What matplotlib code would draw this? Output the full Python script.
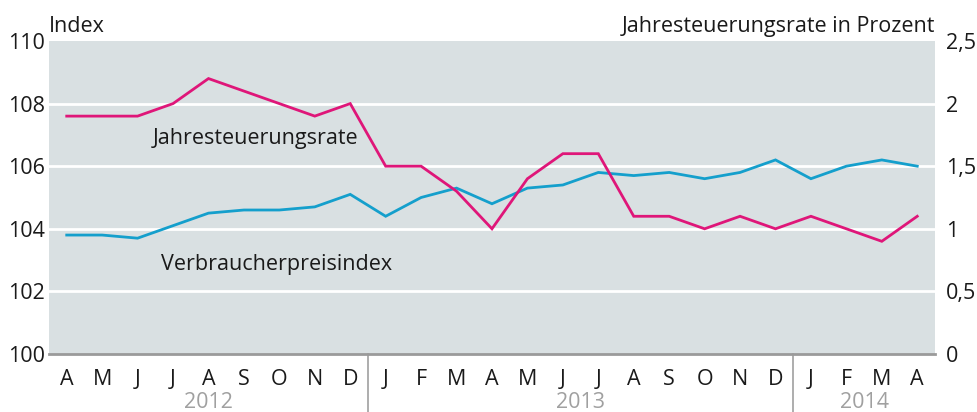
import matplotlib
matplotlib.use("Agg")
import matplotlib.pyplot as plt

plt.rcParams['font.family'] = ['Open Sans', 'DejaVu Sans']

months = ["A", "M", "J", "J", "A", "S", "O", "N", "D",
          "J", "F", "M", "A", "M", "J", "J", "A", "S", "O", "N", "D",
          "J", "F", "M", "A"]
years = ["2012", "2013", "2014"]
vpi = [103.8, 103.8, 103.7, 104.1, 104.5, 104.6, 104.6, 104.7, 105.1,
       104.4, 105.0, 105.3, 104.8, 105.3, 105.4, 105.8, 105.7, 105.8, 105.6, 105.8, 106.2,
       105.6, 106.0, 106.2, 106.0]
rate = [1.9, 1.9, 1.9, 2.0, 2.2, 2.1, 2.0, 1.9, 2.0,
        1.5, 1.5, 1.3, 1.0, 1.4, 1.6, 1.6, 1.1, 1.1, 1.0, 1.1, 1.0,
        1.1, 1.0, 0.9, 1.1]
left_ticks = [100, 102, 104, 106, 108, 110]
right_ticks = [0, 0.5, 1, 1.5, 2, 2.5]
right_labels = ["0", "0,5", "1", "1,5", "2", "2,5"]

BG = "#d9e0e2"
BLUE = "#149fcc"
MAG = "#df1679"
GRAY = "#a0a0a0"
TXT = "#1a1a1a"
FS = 15.5

fig = plt.figure(figsize=(9.78, 4.12), dpi=100)
ax = fig.add_axes([0.0501, 0.1408, 0.9059, 0.7597])
ax2 = ax.twinx()

x = list(range(len(months)))
ax.set_facecolor(BG)
ax.set_xlim(-0.5, len(months) - 0.5)
ax.set_ylim(100, 110)
ax2.set_ylim(0, 2.5)

for t in left_ticks[1:-1]:
    ax.axhline(t, color="white", lw=2, zorder=1)

ax.plot(x, vpi, color=BLUE, lw=2, zorder=3, solid_joinstyle="miter")
ax2.plot(x, rate, color=MAG, lw=2, zorder=3, solid_joinstyle="miter")

for a in (ax, ax2):
    for s in a.spines.values():
        s.set_visible(False)
ax.spines['bottom'].set_visible(True)
ax.spines['bottom'].set_color("#9a9a9a")
ax.spines['bottom'].set_linewidth(2)

ax.set_yticks(left_ticks)
ax.set_yticklabels([str(t) for t in left_ticks], fontsize=FS, color=TXT)
ax2.set_yticks(right_ticks)
ax2.set_yticklabels(right_labels, fontsize=FS, color=TXT)
ax.tick_params(axis='y', length=0, pad=3)
ax2.tick_params(axis='y', length=0, pad=8)

ax.set_xticks(x)
ax.set_xticklabels(months, fontsize=FS, color=TXT)
ax.tick_params(axis='x', length=0, pad=11)

# year separators and labels
sep_positions = [8.5, 20.5]
for sp in sep_positions:
    ax.plot([sp, sp], [0, -0.19], transform=ax.get_xaxis_transform(),
            color=GRAY, lw=1.2, clip_on=False)
year_centers = [4, 14.5, 22.5]
for yc, yl in zip(year_centers, years):
    ax.text(yc, -0.156, yl, transform=ax.get_xaxis_transform(), ha="center",
            va="center", fontsize=FS, color=GRAY)

ax.text(0.0, 1.012, "Index", transform=ax.transAxes, ha="left", va="bottom",
        fontsize=FS, color=TXT)
ax2.text(1.0, 1.012, "Jahresteuerungsrate in Prozent", transform=ax.transAxes,
         ha="right", va="bottom", fontsize=FS, color=TXT)

ax.text(2.43, 106.9, "Jahresteuerungsrate", ha="left", va="center",
        fontsize=FS, color=TXT, zorder=4)
ax.text(2.66, 102.85, "Verbraucherpreisindex", ha="left", va="center",
        fontsize=FS, color=TXT, zorder=4)

fig.savefig("out.png", dpi=100)
